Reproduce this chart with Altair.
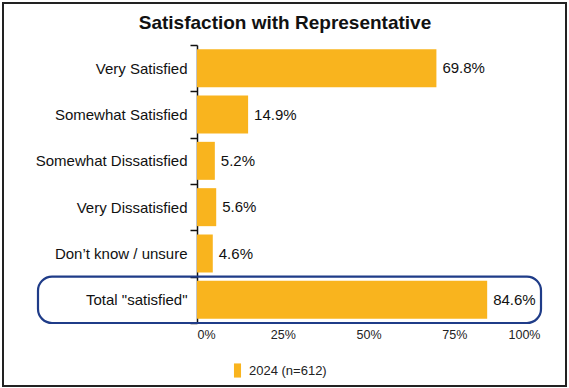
import altair as alt
import pandas as pd

title_text = "Satisfaction with Representative"
categories = ["Very Satisfied", "Somewhat Satisfied", "Somewhat Dissatisfied",
              "Very Dissatisfied", "Don\u2019t know / unsure", "Total \"satisfied\""]
values = [69.8, 14.9, 5.2, 5.6, 4.6, 84.6]
series = "2024 (n=612)"
x_ticks = [0, 25, 50, 75, 100]

df = pd.DataFrame({"Category": categories, "Value": values,
                   "Label": [f"{v:.1f}%" for v in values],
                   "Series": [series] * len(categories)})

FONT = "Liberation Sans"
BAR = "#F9B41E"

y_enc = alt.Y("Category:N", sort=categories,
              scale=alt.Scale(paddingInner=0, paddingOuter=0),
              axis=alt.Axis(title=None, labelFontSize=15, labelColor="#111",
                            labelFont=FONT, tickSize=7, tickColor="#111",
                            tickBand="extent", labelPadding=3,
                            domainColor="#111", domainWidth=1.5, tickWidth=1.5,
                            labelLimit=220))
x_enc = alt.X("Value:Q", scale=alt.Scale(domain=[0, 100], nice=False),
              axis=alt.Axis(title=None, values=x_ticks, grid=False, domain=False,
                            ticks=False, labelExpr="datum.value + '%'",
                            labelFontSize=12.5, labelColor="#222", labelFont=FONT,
                            labelPadding=5))

bars = alt.Chart(df).mark_bar(size=38).encode(
    y=y_enc, x=x_enc,
    color=alt.Color("Series:N", scale=alt.Scale(range=[BAR]),
                    legend=alt.Legend(title=None, orient="none", legendX=33, legendY=318,
                                      symbolType="M-0.5,-1H0.5V1H-0.5Z",
                                      symbolSize=200, symbolStrokeWidth=0,
                                      labelFontSize=13, labelFont=FONT, labelColor="#222")))

labels = alt.Chart(df).mark_text(align="left", dx=6, fontSize=15, font=FONT,
                                 color="#111").encode(
    y=alt.Y("Category:N", sort=categories), x="Value:Q", text="Label:N")

box = alt.Chart(df[df["Category"] == categories[-1]]).mark_rect(
    fill=None, stroke="#1F3C88", strokeWidth=2.2, cornerRadius=14).encode(
    y=alt.Y("Category:N", sort=categories),
    x=alt.value(-159), x2=alt.value(344))

frame = alt.Chart(df.head(1)).mark_rect(
    fill=None, stroke="#222", strokeWidth=2).encode(
    x=alt.value(-194), x2=alt.value(369), y=alt.value(-42), y2=alt.value(341))

title = alt.Chart(pd.DataFrame({"t": [title_text]})).mark_text(
    fontSize=19, font=FONT, fontWeight="bold", color="#111",
    align="center", baseline="middle").encode(
    text="t:N", x=alt.value(88), y=alt.value(-22))

chart = alt.layer(bars, labels, box, frame, title).properties(
    width=343, height=278,
    background="white",
    autosize=alt.AutoSizeParams(type="none"),
    padding={"left": 197, "top": 45, "right": 29, "bottom": 65},
).configure_view(stroke=None)

chart.save("out.html", embed_options={"renderer": "svg", "actions": False})
